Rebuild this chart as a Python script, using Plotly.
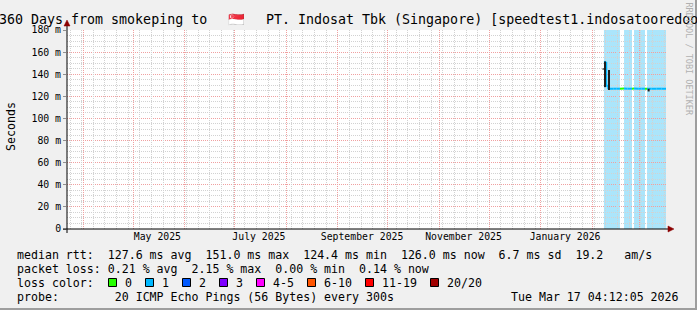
import plotly.graph_objects as go

# ---------------- data ----------------
start = "2025-03-22 04:12:05"
end = "2026-03-17 04:12:05"

# median RTT samples (segment start times), ms, and lost pings out of 20
times = ["2026-02-07 21:00", "2026-02-09 06:00", "2026-02-10 11:00", "2026-02-11 02:00",
         "2026-02-13 12:00", "2026-02-15 12:00", "2026-02-17 12:00", "2026-02-19 23:00",
         "2026-02-22 00:00", "2026-02-24 18:00", "2026-02-25 23:00", "2026-02-28 12:00",
         "2026-03-02 12:00", "2026-03-04 13:00", "2026-03-05 19:00", "2026-03-06 16:00",
         "2026-03-08 12:00", "2026-03-11 12:00", "2026-03-14 12:00"]
median_ms = [151.0, 129.5, 127.2, 126.9, 126.9, 126.9, 127.0, 126.9, 126.9, 127.0,
             126.9, 126.9, 126.9, 126.8, 126.9, 126.8, 126.9, 126.9, 126.8]
loss = [1, 1, 1, 1, 1, 1, 0, 1, 1, 0, 1, 1, 1, 0, 1, 1, 1, 1, 1]

# smoke (ping spread) columns
smoke_times = ["2026-02-07 13:00", "2026-02-08 12:00", "2026-02-10 22:00", "2026-03-06 18:00"]
smoke_lo = [144.2, 128.3, 125.7, 124.4]
smoke_hi = [145.2, 151.5, 143.8, 126.9]

ytick_vals = [0, 20, 40, 60, 80, 100, 120, 140, 160, 180]
ytick_text = ["0", "20 m", "40 m", "60 m", "80 m", "100 m", "120 m", "140 m", "160 m", "180 m"]
xtick_vals = ["2025-05-15 12:00", "2025-07-15 12:00", "2025-09-15 12:00",
              "2025-11-15 12:00", "2026-01-15 12:00"]
xtick_text = ["May 2025", "July 2025", "September 2025", "November 2025", "January 2026"]

loss_labels = ["0", "1", "2", "3", "4-5", "6-10", "11-19", "20/20"]
loss_colors = ["#26ff00", "#00b8ff", "#0059ff", "#7e00ff", "#ff00ff", "#ff5500", "#ff0000", "#a10000"]

stats_line1 = "median rtt:  127.6 ms avg  151.0 ms max  124.4 ms min  126.0 ms now  6.7 ms sd  19.2   am/s"
stats_line2 = "packet loss: 0.21 % avg  2.15 % max  0.00 % min  0.14 % now"
probe_line = "probe:        20 ICMP Echo Pings (56 Bytes) every 300s"
stamp = "Tue Mar 17 04:12:05 2026"
title_left = "Last 360 Days from smokeping to"
title_flag = "\U0001F1F8\U0001F1EC"
title_right = "PT. Indosat Tbk (Singapore) [speedtest1.indosatooredoo.com]"
y_title = "Seconds"
signature = "RRDTOOL / TOBI OETIKER"

# ---------------- layout helpers ----------------
W, H = 697, 310
L, R, T, B = 67, 666, 30, 229          # plot area in pixels
PW, PH = R - L, B - T
MONO = "DejaVu Sans Mono"


def xp(px):
    return (px - L) / PW


def yp(py):
    return (B - py) / PH


def nb(s):
    return s.replace(" ", "\u00a0")


def color_idx(n):
    if n <= 3:
        return n
    if n <= 5:
        return 4
    if n <= 10:
        return 5
    if n <= 19:
        return 6
    return 7


fig = go.Figure()

bounds = times + [end]

# shaded bands where loss > 0
shapes = []
i = 0
while i < len(times):
    if loss[i] > 0:
        j = i
        while j + 1 < len(times) and loss[j + 1] > 0:
            j += 1
        shapes.append(dict(type="rect", xref="x", yref="paper", x0=bounds[i], x1=bounds[j + 1],
                           y0=0, y1=1, fillcolor="#abe5fb", line=dict(width=0), layer="below"))
        i = j + 1
    else:
        i += 1

# median line coloured by loss
segs = {}
for k in range(len(times)):
    c = color_idx(loss[k])
    xs = segs.setdefault(c, ([], []))
    if k > 0:
        xs[0].extend([bounds[k], bounds[k], bounds[k + 1], None])
        xs[1].extend([median_ms[k - 1], median_ms[k], median_ms[k], None])
    else:
        xs[0].extend([bounds[k], bounds[k + 1], None])
        xs[1].extend([median_ms[k], median_ms[k], None])
for c, (xs, ys) in segs.items():
    fig.add_trace(go.Scatter(x=xs, y=ys, mode="lines", line=dict(color=loss_colors[c], width=2),
                             hoverinfo="skip", showlegend=False))

# smoke
sx, sy = [], []
for t, lo, hi in zip(smoke_times, smoke_lo, smoke_hi):
    sx += [t, t, None]
    sy += [lo, hi, None]
fig.add_trace(go.Scatter(x=sx, y=sy, mode="lines", line=dict(color="#1e1e1e", width=2),
                         hoverinfo="skip", showlegend=False))

# dummy traces for the grid axes
fig.add_trace(go.Scatter(x=[start, end], y=[None, None], xaxis="x2", showlegend=False, hoverinfo="skip"))
fig.add_trace(go.Scatter(x=[start, end], y=[None, None], xaxis="x3", showlegend=False, hoverinfo="skip"))

minor_col = "#d2d2d2"
major_col = "#f0a0a0"

fig.update_layout(
    width=W, height=H,
    margin=dict(l=L, r=W - R, t=T, b=H - B, pad=0),
    paper_bgcolor="#f0f0f0",
    plot_bgcolor="#ffffff",
    showlegend=False,
    xaxis=dict(type="date", range=[start, end], tickvals=xtick_vals, ticktext=xtick_text,
               showgrid=False, zeroline=False, showline=False, ticks="",
               tickfont=dict(family=MONO, size=9.8, color="#000000"), fixedrange=True),
    xaxis2=dict(type="date", range=[start, end], overlaying="x", anchor="y",
                tick0="2025-03-24", dtick=7 * 86400000, showgrid=True, gridcolor=minor_col,
                griddash="1px,1px", gridwidth=1, showticklabels=False, ticks="", zeroline=False,
                showline=False),
    xaxis3=dict(type="date", range=[start, end], overlaying="x", anchor="y",
                tick0="2025-04-01", dtick="M1", showgrid=True, gridcolor=major_col,
                griddash="1px,1px", gridwidth=1, showticklabels=False, ticks="", zeroline=False,
                showline=False),
    yaxis=dict(range=[0, 180], tickvals=ytick_vals, ticktext=ytick_text, showgrid=True,
               gridcolor=major_col, griddash="1px,1px", gridwidth=1, zeroline=False,
               showline=False, ticks="outside", ticklen=3, tickcolor="#909090",
               tickfont=dict(family=MONO, size=9.8, color="#000000"),
               minor=dict(dtick=5, showgrid=True, gridcolor=minor_col, griddash="1px,1px",
                          gridwidth=1, ticks=""),
               fixedrange=True),
)

# axis lines + arrows
axcol = "#000000"
arrow = "#8b0000"
shapes += [
    dict(type="line", xref="paper", yref="paper", x0=xp(63), x1=xp(670), y0=0, y1=0,
         line=dict(color=axcol, width=1), layer="above"),
    dict(type="line", xref="paper", yref="paper", x0=0, x1=0, y0=yp(233), y1=yp(25),
         line=dict(color=axcol, width=1), layer="above"),
    dict(type="path", xref="paper", yref="paper",
         path=f"M {xp(668)},{yp(226)} L {xp(674)},{yp(229)} L {xp(668)},{yp(232)} Z",
         fillcolor=arrow, line=dict(color=arrow, width=0.5), layer="above"),
    dict(type="path", xref="paper", yref="paper",
         path=f"M {xp(64)},{yp(26)} L {xp(67)},{yp(20)} L {xp(70)},{yp(26)} Z",
         fillcolor=arrow, line=dict(color=arrow, width=0.5), layer="above"),
    # frame shading
    dict(type="rect", xref="paper", yref="paper", x0=xp(0), x1=xp(W), y0=yp(H), y1=yp(H - 2),
         fillcolor="#9e9e9e", line=dict(width=0), layer="above"),
    dict(type="rect", xref="paper", yref="paper", x0=xp(W - 2), x1=xp(W), y0=yp(H), y1=yp(0),
         fillcolor="#9e9e9e", line=dict(width=0), layer="above"),
]

# legend colour boxes
box_x = 108.5
ann = []
for lab, col in zip(loss_labels, loss_colors):
    shapes.append(dict(type="rect", xref="paper", yref="paper", x0=xp(box_x), x1=xp(box_x + 8),
                       y0=yp(286.5), y1=yp(278.5), fillcolor=col,
                       line=dict(color="#000000", width=1), layer="above"))
    ann.append(dict(text=nb(lab), x=xp(box_x + 14), y=yp(282.5), xanchor="left", yanchor="middle"))
    box_x += 30 + 7 * len(lab)

ann += [
    dict(text=nb(stats_line1), x=xp(15), y=yp(254.5), xanchor="left", yanchor="middle"),
    dict(text=nb(stats_line2), x=xp(15), y=yp(268.5), xanchor="left", yanchor="middle"),
    dict(text=nb("loss color:"), x=xp(15), y=yp(282.5), xanchor="left", yanchor="middle"),
    dict(text=nb(probe_line), x=xp(15), y=yp(296.5), xanchor="left", yanchor="middle"),
    dict(text=nb(stamp), x=xp(681), y=yp(296.5), xanchor="right", yanchor="middle"),
]
for a in ann:
    a.update(xref="paper", yref="paper", showarrow=False,
             font=dict(family=MONO, size=11.6, color="#000000"))

ann += [
    dict(text=nb(title_left), x=xp(209), y=yp(19), xanchor="right", yanchor="middle",
         font=dict(family=MONO, size=13.3, color="#000000")),
    dict(text=title_flag, x=xp(236.5), y=yp(19), xanchor="center", yanchor="middle",
         font=dict(family=MONO, size=13.3, color="#000000")),
    dict(text=nb(title_right), x=xp(264), y=yp(19), xanchor="left", yanchor="middle",
         font=dict(family=MONO, size=13.3, color="#000000")),
    dict(text=y_title, x=xp(11), y=yp(127), xanchor="center", yanchor="middle", textangle=-90,
         font=dict(family=MONO, size=11.6, color="#000000")),
    dict(text=nb(signature), x=xp(688.5), y=yp(59), xanchor="center", yanchor="middle", textangle=90,
         font=dict(family=MONO, size=8.5, color="#b0b0b0")),
]
for a in ann:
    a.setdefault("xref", "paper")
    a.setdefault("yref", "paper")
    a.setdefault("showarrow", False)

fig.update_layout(shapes=shapes, annotations=ann)
fig.write_html("out.html")
